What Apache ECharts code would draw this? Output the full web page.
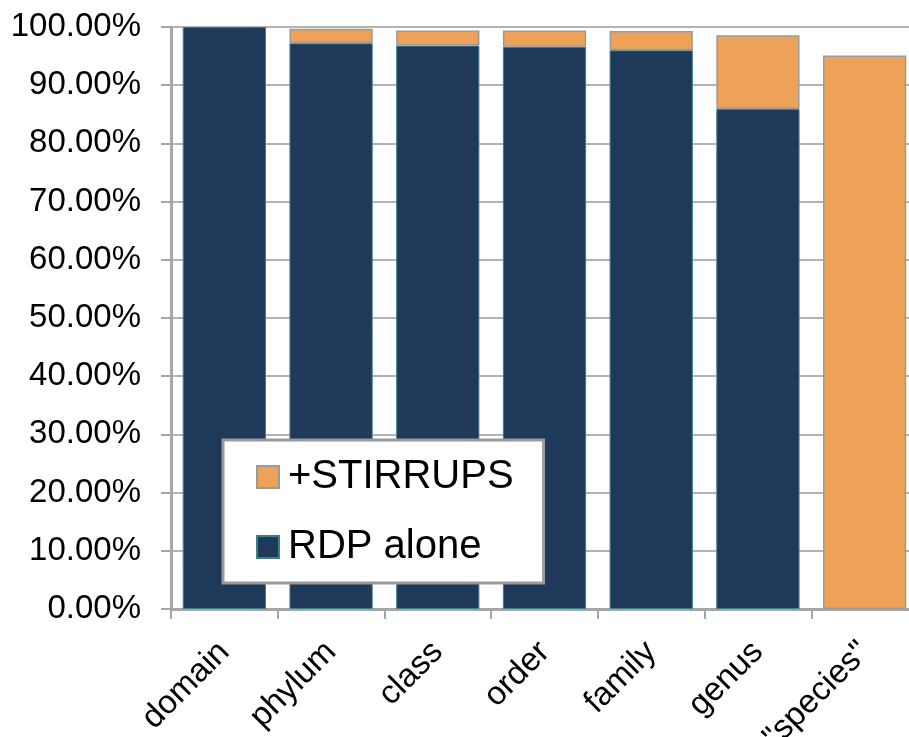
<!DOCTYPE html>
<html>
<head>
<meta charset="utf-8">
<script src="https://cdn.jsdelivr.net/npm/echarts@6/dist/echarts.min.js"></script>
<style>
html,body{margin:0;padding:0;background:#fff;overflow:hidden;}
#chart{width:920px;height:737px;}
</style>
</head>
<body>
<div id="chart"></div>
<script>
const categories = ['domain', 'phylum', 'class', 'order', 'family', 'genus', '"species"'];
const rdpAlone = [100, 97.2, 96.8, 96.6, 96.0, 85.9, 0];
const stirrupsAdded = [0, 2.5, 2.6, 2.8, 3.3, 12.7, 95.1];
const yTicks = [0, 10, 20, 30, 40, 50, 60, 70, 80, 90, 100];

const font = '"Liberation Sans", Arial, Helvetica, sans-serif';
const toBar = v => (v === 0 ? '-' : v);

const chart = echarts.init(document.getElementById('chart'));
chart.setOption({
  animation: false,
  backgroundColor: '#ffffff',
  textStyle: { fontFamily: font },
  grid: { left: 171, top: 27, width: 747, bottom: 128, containLabel: false, outerBoundsMode: 'none' },
  legend: {
    orient: 'vertical',
    left: 223,
    top: 440,
    data: ['+STIRRUPS', 'RDP alone'],
    icon: 'rect',
    backgroundColor: '#ffffff',
    borderColor: '#9a9a9a',
    borderWidth: 3,
    padding: [16, 30, 15, 33],
    itemWidth: 22,
    itemHeight: 22,
    itemGap: 28,
    textStyle: { fontFamily: font, fontSize: 40, color: '#000', lineHeight: 42, padding: [0, 0, 0, 4] }
  },
  xAxis: {
    type: 'category',
    data: categories,
    axisLine: { lineStyle: { color: '#a6a6a6', width: 3 } },
    axisTick: { show: true, length: 10, lineStyle: { color: '#a6a6a6', width: 2 } },
    axisLabel: { rotate: 45, fontSize: 33, color: '#000', fontFamily: font, margin: 38, interval: 0 }
  },
  yAxis: {
    type: 'value',
    min: 0,
    max: 100,
    interval: 10,
    axisLine: { show: true, lineStyle: { color: '#a6a6a6', width: 3 } },
    axisTick: { show: true, length: 10, lineStyle: { color: '#a6a6a6', width: 2 } },
    splitLine: { show: true, lineStyle: { color: '#b3b3b3', width: 2 } },
    axisLabel: {
      fontSize: 33, color: '#000', fontFamily: font, margin: 30,
      formatter: v => yTicks.includes(v) ? v.toFixed(2) + '%' : ''
    }
  },
  series: [
    {
      name: 'RDP alone',
      type: 'bar',
      stack: 'total',
      barCategoryGap: '22%',
      data: rdpAlone.map(toBar),
      itemStyle: { color: '#1F395A', borderColor: '#3f7f80', borderWidth: 1 }
    },
    {
      name: '+STIRRUPS',
      type: 'bar',
      stack: 'total',
      barCategoryGap: '22%',
      data: stirrupsAdded.map(toBar),
      itemStyle: { color: '#EDA257', borderColor: '#9a9a9a', borderWidth: 1.5 }
    }
  ]
});
</script>
</body>
</html>
